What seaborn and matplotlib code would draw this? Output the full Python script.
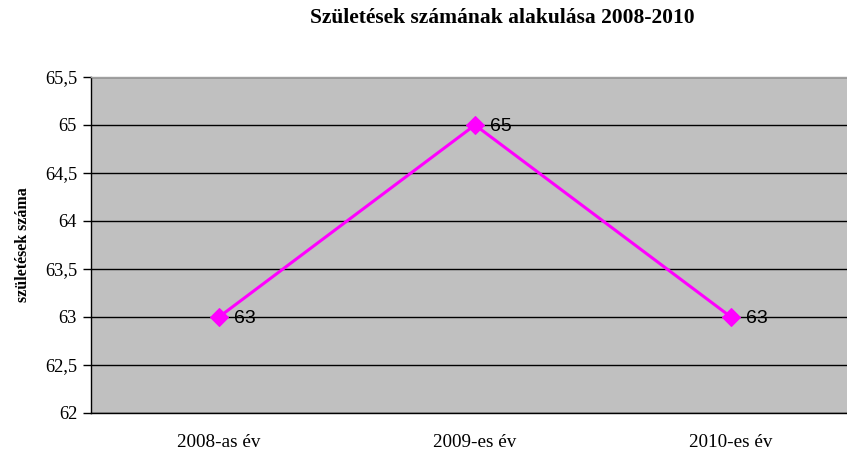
import pandas as pd
import matplotlib.pyplot as plt
import seaborn as sns
from matplotlib.ticker import FixedLocator, FuncFormatter

# chart data
years = ['2008-as év', '2009-es év', '2010-es év']
births = [63, 65, 63]

df = pd.DataFrame({'Ev': years, 'Szuletesek': births})
df['pos'] = range(len(df))

sns.set_style('white')
plt.rcParams['font.family'] = ['Liberation Serif', 'DejaVu Serif']
plt.rcParams['text.color'] = 'black'
plt.rcParams['xtick.color'] = 'black'
plt.rcParams['ytick.color'] = 'black'
plt.rcParams['axes.labelcolor'] = 'black'

fig = plt.figure(figsize=(8.47, 4.5), dpi=100)
ax = fig.add_axes([91 / 847, 1 - 413 / 450, 768 / 847, 336 / 450])
ax.set_facecolor('#C0C0C0')

sns.lineplot(x='pos', y='Szuletesek', data=df, ax=ax, color='#FF00FF',
             linewidth=2.2, marker='D', markersize=9, markeredgecolor='#FF00FF')

# data labels
for i, v in enumerate(births):
    ax.text(i + 0.058, v, f'{v}', fontsize=14, family=['Liberation Sans'],
            va='center_baseline', ha='left', color='black')

ax.set_xlim(-0.5, 2.5)
ax.set_ylim(62, 65.5)
ax.set_yticks([62 + 0.5 * k for k in range(8)])
ax.yaxis.set_major_formatter(FuncFormatter(lambda v, p: f'{v:g}'.replace('.', ',')))
ax.yaxis.grid(True, color='black', linewidth=1)
ax.xaxis.grid(False)

ax.set_xticks(df['pos'])
ax.set_xticklabels(years)
ax.xaxis.set_minor_locator(FixedLocator([0.5, 1.5]))
ax.tick_params(axis='x', which='major', length=0, pad=15, labelsize=13.8)
ax.tick_params(axis='x', which='minor', length=6, width=1, direction='out', color='black')
ax.tick_params(axis='y', which='major', length=6, width=1, direction='out',
               color='black', labelsize=13.3, left=True, pad=4)

for s in ['left', 'bottom']:
    ax.spines[s].set_color('black')
    ax.spines[s].set_linewidth(1)
ax.spines['top'].set_color('#A0A0A0')
ax.spines['top'].set_linewidth(1)
ax.spines['right'].set_visible(False)

ax.set_xlabel('')
ax.set_ylabel('születések száma', fontsize=11.5, fontweight='bold', labelpad=10)

fig.text(502 / 847, 1 - 18 / 450, 'Születések számának alakulása 2008-2010', ha='center', va='center',
         fontsize=15.5, fontweight='bold')

fig.savefig('out.png', dpi=100)
